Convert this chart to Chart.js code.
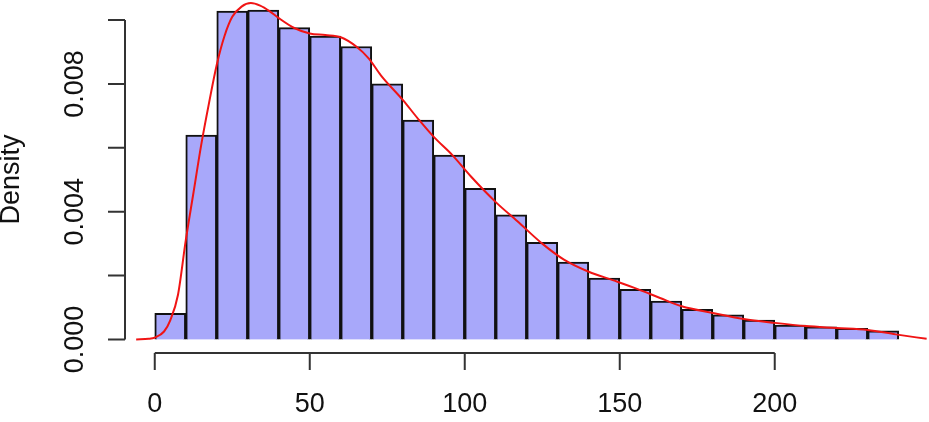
<!DOCTYPE html>
<html>
<head>
<meta charset="utf-8">
<script src="https://cdn.jsdelivr.net/npm/chart.js@4/dist/chart.umd.min.js"></script>
<style>
  html, body { margin: 0; padding: 0; background: #fff; overflow: hidden; }
  #wrap { width: 929px; height: 422px; }
</style>
</head>
<body>
<div id="wrap"><canvas id="chart" width="929" height="422"></canvas></div>
<script>
// histogram bins (left edges) and densities
var binStarts = [0, 10, 20, 30, 40, 50, 60, 70, 80, 90, 100, 110, 120, 130, 140, 150, 160, 170, 180, 190, 200, 210, 220, 230];
var binDensity = [0.00082, 0.0064, 0.01028, 0.01031, 0.00976, 0.0095, 0.00917, 0.008, 0.00687, 0.00577, 0.00473, 0.0039,
                  0.00304, 0.00242, 0.00192, 0.00157, 0.0012, 0.00094, 0.00077, 0.00061, 0.00045, 0.0004, 0.00035, 0.00027];
var binWidth = 10;

// kernel density curve
var densX = [-6, -2, 0, 3, 5, 7.5, 10, 12.5, 15, 17.5, 20, 22.5, 25, 28, 31, 34, 37, 40, 45, 50, 55, 60, 65, 69, 73,
             80, 85, 90, 96, 102, 110, 117, 125, 132, 140, 148, 156, 163, 170, 180, 190, 200, 210, 220, 230, 239, 249];
var densY = [0, 0.00002, 0.00006, 0.00025, 0.0006, 0.0014, 0.0031, 0.0046, 0.0061, 0.0074, 0.0086, 0.0095, 0.0101,
             0.01042, 0.01053, 0.01045, 0.01028, 0.01006, 0.00975, 0.00958, 0.00953, 0.00946, 0.00917, 0.0088, 0.00826,
             0.0075, 0.0069, 0.00634, 0.00577, 0.0051, 0.0043, 0.0037, 0.003, 0.0025, 0.00212, 0.00185, 0.00157, 0.0013,
             0.00104, 0.00083, 0.00064, 0.00052, 0.00042, 0.00036, 0.0003, 0.00016, 0.00002];

var xTicks = [0, 50, 100, 150, 200];
var yTicks = [0, 0.002, 0.004, 0.006, 0.008, 0.010];
var yTickLabels = ['0.000', '', '0.004', '', '0.008', ''];
var yTitle = 'Density';

var FONT = '27px "Liberation Sans", Arial, sans-serif';

var barData = [];
for (let i = 0; i < binStarts.length; i++) {
    barData.push({x: binStarts[i] + binWidth / 2, y: binDensity[i]});
}
var lineData = [];
for (let i = 0; i < densX.length; i++) {
    lineData.push({x: densX[i], y: densY[i]});
}

// R style detached axes
var rAxes = {
    id: 'rAxes',
    afterDraw: function(chart) {
        var c = chart.ctx;
        var xs = chart.scales.x, ys = chart.scales.y;
        var area = chart.chartArea;
        c.save();
        c.strokeStyle = '#333';
        c.lineWidth = 2;
        c.fillStyle = '#111';
        c.font = FONT;

        // x axis
        var yLine = area.bottom;
        c.beginPath();
        c.moveTo(xs.getPixelForValue(xTicks[0]), yLine);
        c.lineTo(xs.getPixelForValue(xTicks[xTicks.length - 1]), yLine);
        for (let i = 0; i < xTicks.length; i++) {
            var px = xs.getPixelForValue(xTicks[i]);
            c.moveTo(px, yLine);
            c.lineTo(px, yLine + 17);
        }
        c.stroke();
        c.textAlign = 'center';
        c.textBaseline = 'middle';
        for (let i = 0; i < xTicks.length; i++) {
            c.fillText(String(xTicks[i]), xs.getPixelForValue(xTicks[i]), yLine + 52);
        }

        // y axis
        var xLine = area.left;
        c.beginPath();
        c.moveTo(xLine, ys.getPixelForValue(yTicks[0]));
        c.lineTo(xLine, ys.getPixelForValue(yTicks[yTicks.length - 1]));
        for (let i = 0; i < yTicks.length; i++) {
            var py = ys.getPixelForValue(yTicks[i]);
            c.moveTo(xLine, py);
            c.lineTo(xLine - 17, py);
        }
        c.stroke();
        for (let i = 0; i < yTicks.length; i++) {
            if (!yTickLabels[i]) continue;
            c.save();
            c.translate(xLine - 49, ys.getPixelForValue(yTicks[i]));
            c.rotate(-Math.PI / 2);
            c.fillText(yTickLabels[i], 0, 0);
            c.restore();
        }
        c.save();
        c.translate(12, (area.top + area.bottom) / 2 + 3);
        c.rotate(-Math.PI / 2);
        c.fillText(yTitle, 0, 0);
        c.restore();
        c.restore();
    }
};

var ctx = document.getElementById('chart').getContext('2d');
var histChart = new Chart(ctx, {
    type: 'bar',
    data: {
        datasets: [{
            type: 'bar',
            data: barData,
            backgroundColor: 'rgb(168,168,250)',
            borderColor: '#111',
            borderWidth: 2,
            barPercentage: 1,
            categoryPercentage: 1,
            order: 2
        }, {
            type: 'line',
            data: lineData,
            borderColor: 'rgb(240,20,20)',
            borderWidth: 2,
            pointRadius: 0,
            fill: false,
            cubicInterpolationMode: 'monotone',
            order: 1
        }]
    },
    options: {
        responsive: false,
        animation: false,
        devicePixelRatio: 1,
        layout: { padding: { left: 125, right: 0.5, top: 0, bottom: 69 } },
        plugins: { legend: { display: false }, tooltip: { enabled: false } },
        scales: {
            x: { type: 'linear', min: -9.6, max: 249.6, display: false, offset: false },
            y: { type: 'linear', min: -0.000423, max: 0.010626, display: false }
        }
    },
    plugins: [rAxes]
});
</script>
</body>
</html>
